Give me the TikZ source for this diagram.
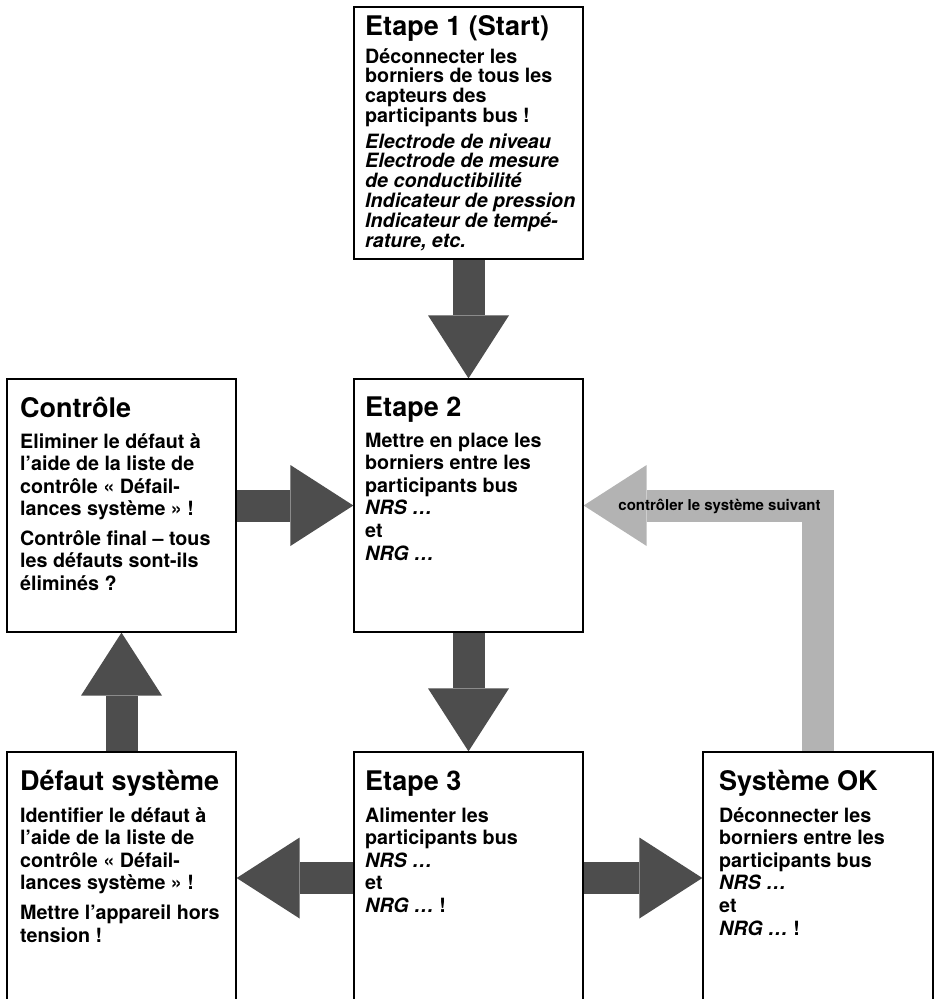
\documentclass[tikz,border=0pt]{standalone}
\usepackage{fontspec}
\setmainfont{TeX Gyre Heros}
\usetikzlibrary{arrows.meta,backgrounds}
\definecolor{arrdark}{HTML}{4D4D4D}
\definecolor{arrlight}{HTML}{B3B3B3}
\newcommand\ttlfont{\fontsize{27pt}{30pt}\selectfont\bfseries}
\newcommand\bodyA{\fontsize{19.7pt}{19.8pt}\selectfont\bfseries}
\newcommand\bodyB{\fontsize{19.7pt}{22.6pt}\selectfont\bfseries}
\begin{document}
\begin{tikzpicture}[x=1pt,y=1pt,
  box/.style={draw=black, line width=1.3pt, rectangle, inner sep=0pt, minimum width=229pt},
  ttl/.style={anchor=base west, inner sep=0pt, font=\ttlfont},
  txt/.style={anchor=base west, inner sep=0pt},
  darr/.style={draw=arrdark, line width=32pt, -{Triangle[length=63pt,width=81pt,line width=0pt]}},
  larr/.style={draw=arrlight, line width=32pt, line join=miter, -{Triangle[length=63pt,width=81pt,line width=0pt]}},
  lbl/.style={font=\fontsize{15pt}{17pt}\selectfont\bfseries, inner sep=0pt, anchor=base}]
\useasboundingbox (0,0) rectangle (934,-999);
\clip (0,0) rectangle (934,-999);
% boxes
\node[box, minimum height=252pt] (top) at (468.5,-133) {};
\node[box, minimum height=253pt] (ctrl) at (121.5,-505.5) {};
\node[box, minimum height=253pt] (e2) at (468.5,-505.5) {};
\node[box, minimum height=252pt] (def) at (121.5,-878) {};
\node[box, minimum height=252pt] (e3) at (468.5,-878) {};
\node[box, minimum height=252pt, minimum width=230pt] (sok) at (818,-878) {};
% titles
\node[ttl] (t1) at (365,-35) {Etape 1 (Start)};
\node[ttl] (t2) at (20,-417) {Contrôle};
\node[ttl] (t3) at (365,-416) {Etape 2};
\node[ttl] (t4) at (20,-790) {Défaut système};
\node[ttl] (t5) at (365,-790) {Etape 3};
\node[ttl] (t6) at (719,-790) {Système OK};
% bodies
\node[txt] (b1) at (365,-63) {\parbox[t]{215pt}{\raggedright\bodyA
Déconnecter les\\ borniers de tous les\\ capteurs des\\ participants bus !\par
\vspace{5.8pt}
\itshape Electrode de niveau\\ Electrode de mesure\\ de conductibilité\\ Indicateur de pression\\ Indicateur de tempé-\\ rature, etc.\par}};
\node[txt] (b2) at (20,-448) {\parbox[t]{215pt}{\raggedright\bodyB
Eliminer le défaut à\\ l’aide de la liste de\\ contrôle « Défail-\\ lances système » !\par
\vspace{6.6pt}
Contrôle final – tous\\ les défauts sont-ils\\ éliminés ?\par}};
\node[txt] (b3) at (365,-447) {\parbox[t]{215pt}{\raggedright\bodyB
Mettre en place les\\ borniers entre les\\ participants bus\\ \textit{NRS …}\\ et\\ \textit{NRG …}\par}};
\node[txt] (b4) at (20,-822) {\parbox[t]{215pt}{\raggedright\bodyB
Identifier le défaut à\\ l’aide de la liste de\\ contrôle « Défail-\\ lances système » !\par
\vspace{7pt}
Mettre l’appareil hors\\ tension !\par}};
\node[txt] (b5) at (365,-822) {\parbox[t]{215pt}{\raggedright\bodyB
Alimenter les\\ participants bus\\ \textit{NRS …}\\ et\\ \textit{NRG …} !\par}};
\node[txt] (b6) at (719,-822) {\parbox[t]{212pt}{\raggedright\bodyB
Déconnecter les\\ borniers entre les\\ participants bus\\ \textit{NRS …}\\ et\\ \textit{NRG …} !\par}};
% arrows
\begin{scope}[on background layer]
\draw[darr] (top.south) -- (e2.north);
\draw[darr] (ctrl.east) -- (e2.west);
\draw[darr] (e2.south) -- (e3.north);
\draw[darr] (def.north) -- (ctrl.south);
\draw[darr] (e3.west) -- (def.east);
\draw[darr] (e3.east) -- (sok.west);
\draw[larr] (sok.north) |- (e2.east);
\end{scope}
\node[lbl] (lab) at (719.5,-510) {contrôler le système suivant};
\end{tikzpicture}
\end{document}
